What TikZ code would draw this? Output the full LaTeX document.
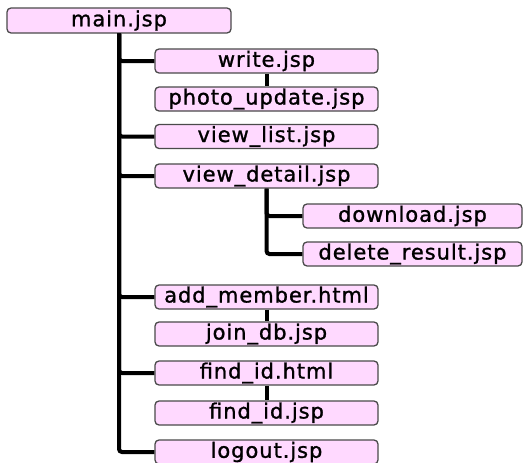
\documentclass[tikz,border=0pt]{standalone}
\usepackage{fontspec}
\setmainfont{DejaVu Sans}[LetterSpace=4.5,FakeBold=1.2]
\definecolor{pagefill}{HTML}{FFD9FF}
\definecolor{pageline}{HTML}{4A4A4A}
\tikzset{
	page/.style={draw=pageline, fill=pagefill, line width=1.3pt, rounded corners=4pt,
		minimum width=223pt, minimum height=24pt, inner sep=0pt, font=\fontsize{21}{21}\selectfont},
	subpage/.style={page, minimum width=219pt},
	link/.style={line width=4pt, rounded corners=3pt}
}
\begin{document}
\begin{tikzpicture}[x=1pt,y=-1pt]
				\useasboundingbox (0,0) rectangle (523,463);
				\node[page, minimum width=224pt, minimum height=25pt] (main) at (119,20.5) {main.jsp};
				\node[page] (write) at (266.5,61) {write.jsp};
				\node[page] (photo) at (266.5,99) {photo\_update.jsp};
				\node[page] (vlist) at (266.5,136.5) {view\_list.jsp};
				\node[page] (vdetail) at (266.5,176) {view\_detail.jsp};
				\node[subpage] (download) at (412.5,216) {download.jsp};
				\node[subpage] (delete) at (412.5,254) {delete\_result.jsp};
				\node[page] (addmember) at (266.5,297) {add\_member.html};
				\node[page] (joindb) at (266.5,334) {join\_db.jsp};
				\node[page] (findhtml) at (266.5,373) {find\_id.html};
				\node[page] (findjsp) at (266.5,413) {find\_id.jsp};
				\node[page] (logout) at (266.5,452) {logout.jsp};
				% links from main.jsp
				\foreach \p in {write,vlist,vdetail,addmember,findhtml,logout}{
					\draw[link] (main.south) |- (\p.west);
				}
				% links from view_detail.jsp
				\draw[link] (vdetail.south) |- (download.west);
				\draw[link] (vdetail.south) |- (delete.west);
				% page to page
				\draw[link] (write) -- (photo);
				\draw[link] (addmember) -- (joindb);
				\draw[link] (findhtml) -- (findjsp);
\end{tikzpicture}
\end{document}
